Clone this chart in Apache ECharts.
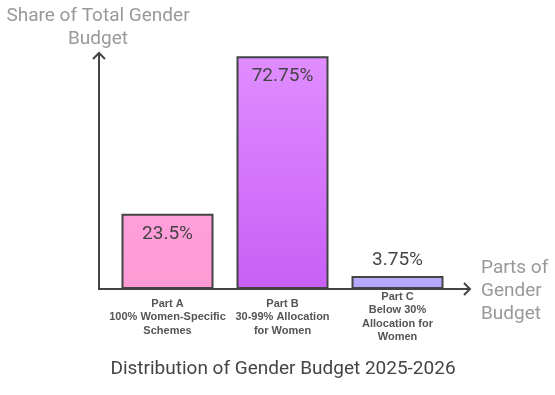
<!DOCTYPE html>
<html><head><meta charset="utf-8">
<script src="https://cdn.jsdelivr.net/npm/echarts@6/dist/echarts.min.js"></script>
<style>html,body{margin:0;padding:0;background:#fff}#c{width:555px;height:395px}</style>
</head><body><div id="c"></div>
<script>
const categories = ['Part A\n100% Women-Specific\nSchemes', 'Part B\n30-99% Allocation\nfor Women', 'Part C\nBelow 30%\nAllocation for\nWomen'];
const values = [23.5, 72.75, 3.75];
const valueLabels = ['23.5%', '72.75%', '3.75%'];
const colorsTop = ['#ff9fda', '#e08dff', '#b9acff'];
const colorsBottom = ['#ff9ad4', '#c85ff6', '#b2a6ff'];

const chart = echarts.init(document.getElementById('c'));
const G = '#444';
chart.setOption({
  animation: false,
  grid: {left: 110, right: 100, top: 33, bottom: 106},
  xAxis: {
    type: 'category', data: categories,
    axisLine: {show: false}, axisTick: {show: false},
    axisLabel: {interval: 0, color: '#555', fontFamily: 'Liberation Sans', fontWeight: 'bold', fontSize: 11, lineHeight: 13.5, margin: 28, verticalAlign: 'middle'}
  },
  yAxis: {type: 'value', min: 0, max: 80, show: false},
  series: [{
    type: 'bar', barWidth: 92, barMinHeight: 13,
    data: values.map((v, i) => ({
      value: v,
      itemStyle: {
        color: new echarts.graphic.LinearGradient(0, 0, 0, 1, [{offset: 0, color: colorsTop[i]}, {offset: 1, color: colorsBottom[i]}]),
        borderColor: G, borderWidth: 2
      },
      label: {
        show: true, formatter: valueLabels[i],
        position: v < 10 ? 'top' : 'insideTop', distance: v < 10 ? 6 : 11,
        fontFamily: 'Roboto', fontSize: 19, color: '#444'
      }
    }))
  }],
  graphic: [
    {type: 'line', shape: {x1: 99, y1: 290, x2: 99, y2: 53}, style: {stroke: G, lineWidth: 2}},
    {type: 'polyline', shape: {points: [[93, 59], [99, 53], [105, 59]]}, style: {stroke: G, lineWidth: 2, fill: null}},
    {type: 'line', shape: {x1: 98, y1: 289, x2: 470, y2: 289}, style: {stroke: G, lineWidth: 2}},
    {type: 'polyline', shape: {points: [[464, 283], [470, 289], [464, 295]]}, style: {stroke: G, lineWidth: 2, fill: null}},
    {type: 'text', x: 98, y: 5, style: {text: 'Share of Total Gender\nBudget', textAlign: 'center', fill: '#999', font: '19px Roboto', lineHeight: 23}},
    {type: 'text', x: 481, y: 257, style: {text: 'Parts of\nGender\nBudget', textAlign: 'left', fill: '#999', font: '19px Roboto', lineHeight: 23}},
    {type: 'text', x: 283, y: 360, style: {text: 'Distribution of Gender Budget 2025-2026', textAlign: 'center', fill: '#444', font: '19px Roboto'}}
  ]
});
</script></body></html>
